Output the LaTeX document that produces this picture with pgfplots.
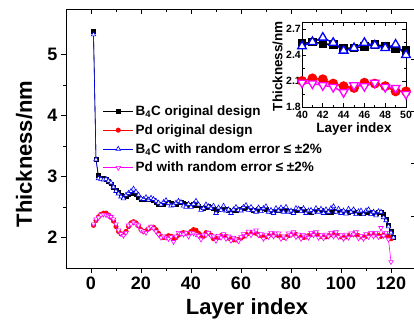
\documentclass[border=0pt]{standalone}
\usepackage{fontspec}
\setmainfont{Liberation Sans}
\usepackage{pgfplots}
\usepackage{pgfplotstable}
\pgfplotsset{compat=1.18}
\pgfplotstableread{
x B P BR PR
1 5.38 2.20 5.33 2.22
2 3.28 2.28 3.28 2.30
3 3.02 2.34 2.97 2.33
4 2.98 2.38 2.96 2.37
5 2.97 2.40 2.95 2.38
6 2.95 2.40 2.96 2.37
7 2.92 2.37 2.93 2.36
8 2.88 2.33 2.90 2.34
9 2.82 2.27 2.83 2.30
10 2.78 2.18 2.76 2.22
11 2.74 2.10 2.72 2.12
12 2.70 2.06 2.67 2.06
13 2.68 2.06 2.64 2.03
14 2.68 2.10 2.70 2.08
15 2.70 2.18 2.73 2.20
16 2.72 2.24 2.76 2.22
17 2.72 2.26 2.80 2.25
18 2.70 2.24 2.75 2.22
19 2.66 2.19 2.70 2.20
20 2.63 2.13 2.64 2.12
21 2.62 2.10 2.63 2.10
22 2.62 2.11 2.66 2.08
23 2.63 2.14 2.62 2.15
24 2.63 2.17 2.65 2.18
25 2.61 2.17 2.63 2.15
26 2.58 2.13 2.60 2.10
27 2.55 2.07 2.57 2.05
28 2.54 2.02 2.54 2.00
29 2.55 2.00 2.58 2.02
30 2.57 2.01 2.61 2.00
31 2.58 2.03 2.56 1.98
32 2.57 2.02 2.52 2.01
33 2.55 1.99 2.53 1.93
34 2.55 2.00 2.57 2.02
35 2.57 2.04 2.60 2.08
36 2.58 2.07 2.58 2.06
37 2.57 2.08 2.52 2.05
38 2.55 2.07 2.50 2.08
39 2.53 2.07 2.55 2.02
40 2.53 2.10 2.50 2.08
41 2.55 2.13 2.55 2.07
42 2.53 2.12 2.60 2.05
43 2.52 2.07 2.54 2.03
44 2.48 2.04 2.45 1.97
45 2.48 2.02 2.48 2.05
46 2.50 2.08 2.54 2.04
47 2.52 2.07 2.51 2.08
48 2.50 2.04 2.48 2.03
49 2.47 1.98 2.52 2.02
50 2.45 1.98 2.40 1.95
51 2.46 2.00 2.49 2.03
52 2.47 2.03 2.45 2.00
53 2.48 2.04 2.52 2.06
54 2.47 2.02 2.44 1.98
55 2.45 1.99 2.46 2.02
56 2.44 1.97 2.40 1.95
57 2.44 1.96 2.46 2.00
58 2.45 1.96 2.50 1.97
59 2.46 1.97 2.45 1.94
60 2.47 1.99 2.44 2.01
61 2.48 2.02 2.50 2.06
62 2.48 2.05 2.53 2.03
63 2.47 2.07 2.45 2.10
64 2.46 2.08 2.50 2.04
65 2.45 2.08 2.45 2.10
66 2.45 2.07 2.42 2.12
67 2.46 2.05 2.49 2.04
68 2.47 2.03 2.43 2.06
69 2.47 2.01 2.48 1.98
70 2.46 2.01 2.51 2.05
71 2.44 2.03 2.42 2.01
72 2.43 2.05 2.45 2.08
73 2.43 2.06 2.40 2.02
74 2.44 2.05 2.48 2.07
75 2.45 2.03 2.44 2.07
76 2.46 2.01 2.49 1.98
77 2.46 2.00 2.42 2.02
78 2.45 2.01 2.50 1.99
79 2.44 2.03 2.42 2.07
80 2.43 2.05 2.44 2.04
81 2.43 2.06 2.40 2.09
82 2.44 2.05 2.48 2.01
83 2.45 2.03 2.47 2.05
84 2.46 2.01 2.43 1.98
85 2.45 2.00 2.48 2.04
86 2.44 2.01 2.40 2.02
87 2.43 2.03 2.44 2.00
88 2.42 2.05 2.45 2.08
89 2.43 2.06 2.41 2.04
90 2.44 2.06 2.48 2.09
91 2.45 2.04 2.42 2.00
92 2.45 2.02 2.47 2.04
93 2.44 2.01 2.40 1.99
94 2.43 2.01 2.46 2.05
95 2.42 2.03 2.42 2.02
96 2.42 2.05 2.48 2.08
97 2.43 2.06 2.51 2.02
98 2.44 2.05 2.42 2.09
99 2.44 2.03 2.47 2.01
100 2.43 2.01 2.40 2.04
101 2.42 2.00 2.44 1.98
102 2.41 2.01 2.39 2.05
103 2.42 2.03 2.47 2.00
104 2.43 2.05 2.42 2.07
105 2.43 2.06 2.46 2.05
106 2.42 2.05 2.38 2.09
107 2.41 2.03 2.43 1.99
108 2.40 2.01 2.44 2.03
109 2.40 2.00 2.38 1.98
110 2.41 2.02 2.44 2.06
111 2.42 2.04 2.46 2.01
112 2.41 2.06 2.38 2.08
113 2.40 2.06 2.42 2.02
114 2.40 2.05 2.36 2.08
115 2.41 2.03 2.43 2.01
116 2.41 2.02 2.42 2.16
117 2.38 2.04 2.33 2.03
118 2.30 2.04 2.28 2.08
119 2.20 2.02 2.18 1.97
120 2.10 1.98 2.08 1.60
121 2.00 nan 2.00 nan
}\datatable
\definecolor{mag}{RGB}{255,0,255}
\begin{document}
\begin{tikzpicture}
\pgfplotsset{
  bstyle/.style={black, line width=0.6pt, mark=square*, mark options={solid, fill=black, scale=0.85}},
  pstyle/.style={red, line width=0.6pt, mark=*, mark options={solid, fill=red}},
  brstyle/.style={blue, line width=0.6pt, mark=triangle*, mark options={solid, fill=white, line width=0.6pt, scale=1.2}},
  prstyle/.style={mag, line width=0.6pt, mark=triangle*, mark options={solid, fill=white, rotate=180, line width=0.6pt, scale=1.2}},
}
\begin{axis}[name=main, at={(0,0)}, anchor=south west,
  scale only axis, width=350pt, height=259pt,
  xmin=-10, xmax=130, ymin=1.5, ymax=5.75,
  xtick={0,20,...,120}, ytick={2,3,4,5},
  minor x tick num=1, minor y tick num=1,
  tick align=outside, xtick pos=left, ytick pos=left,
  axis line style={line width=1pt},
  every tick/.style={black, line width=1pt},
  major tick length=5pt, minor tick length=3pt,
  /pgf/number format/assume math mode=true,
  ticklabel style={font=\fontsize{18}{18}\selectfont\bfseries},
  xlabel={Layer index}, ylabel={Thickness/nm},
  label style={font=\fontsize{22}{22}\selectfont\bfseries},
  xlabel style={at={(axis description cs:0.517,-0.181)}, anchor=base},
  ylabel style={at={(axis description cs:-0.12,0.44)}, anchor=center},
  legend style={at={(axis description cs:0.105,0.635)}, anchor=north west, draw=none, fill=none,
    font=\fontsize{13.5}{14}\selectfont\bfseries, row sep=3.5pt, inner sep=0pt},
  legend cell align=left,
  legend image code/.code={\draw[mark repeat=2,mark phase=2] plot coordinates {(0pt,0pt) (15pt,0pt) (30pt,0pt)};},
  mark size=2.2pt,
]
\addplot[bstyle] table[x=x, y=B] {\datatable};
\addlegendentry{B\textsubscript{4}C original design}
\addplot[pstyle] table[x=x, y=P] {\datatable};
\addlegendentry{Pd original design}
\addplot[brstyle] table[x=x, y=BR] {\datatable};
\addlegendentry{B\textsubscript{4}C with random error ≤ ±2\%}
\addplot[prstyle] table[x=x, y=PR] {\datatable};
\addlegendentry{Pd with random error ≤ ±2\%}
\end{axis}
\begin{axis}[at={(0,0)}, anchor=south west,
  scale only axis, width=350pt, height=259pt,
  xmin=-10, xmax=130, ymin=1.5, ymax=5.75,
  xtick={0,20,...,120}, ytick={2.34,3.21,4.07,4.92},
  minor x tick num=1,
  tick align=inside, xtick pos=right, ytick pos=right,
  xticklabels={}, yticklabels={},
  axis line style={line width=1pt},
  every tick/.style={black, line width=1pt},
  major tick length=5pt, minor tick length=3pt,
]
\end{axis}
\begin{axis}[at={(236pt,161pt)}, anchor=south west,
  scale only axis, width=104pt, height=85pt,
  xmin=40, xmax=50, ymin=1.8, ymax=2.78,
  xtick={40,42,...,50}, ytick={1.8,2.1,2.4,2.7},
  minor x tick num=1, minor y tick num=1,
  tick align=inside,
  axis background/.style={fill=white},
  axis line style={line width=1pt},
  every tick/.style={black, line width=0.8pt},
  major tick length=4pt, minor tick length=2.5pt,
  /pgf/number format/assume math mode=true,
  /pgf/number format/fixed, /pgf/number format/fixed zerofill, /pgf/number format/precision=1,
  xticklabel style={font=\fontsize{10.5}{10.5}\selectfont\bfseries, /pgf/number format/precision=0, yshift=-1pt},
  yticklabel style={font=\fontsize{10.5}{10.5}\selectfont\bfseries, inner sep=1pt},
  xlabel={Layer index}, ylabel={Thickness/nm},
  label style={font=\fontsize{13.5}{13.5}\selectfont\bfseries},
  xlabel style={at={(axis description cs:0.5,-0.30)}, anchor=base},
  ylabel style={at={(axis description cs:-0.235,0.48)}, anchor=center},
  mark size=2.2pt, clip=true,
]
\addplot[bstyle, line width=1.5pt, every mark/.append style={scale=1.9}, restrict x to domain=39:51] table[x=x, y=B] {\datatable};
\addplot[pstyle, line width=1.5pt, every mark/.append style={scale=1.9}, restrict x to domain=39:51] table[x=x, y=P] {\datatable};
\addplot[brstyle, line width=1.5pt, every mark/.append style={scale=1.9, line width=1.3pt}, restrict x to domain=39:51] table[x=x, y=BR] {\datatable};
\addplot[prstyle, line width=1.5pt, every mark/.append style={scale=1.9, line width=1.3pt}, restrict x to domain=39:51] table[x=x, y=PR] {\datatable};
\end{axis}
\pgfresetboundingbox
\path[use as bounding box] (-66pt,-54pt) rectangle (348pt,268pt);
\end{tikzpicture}
\end{document}
